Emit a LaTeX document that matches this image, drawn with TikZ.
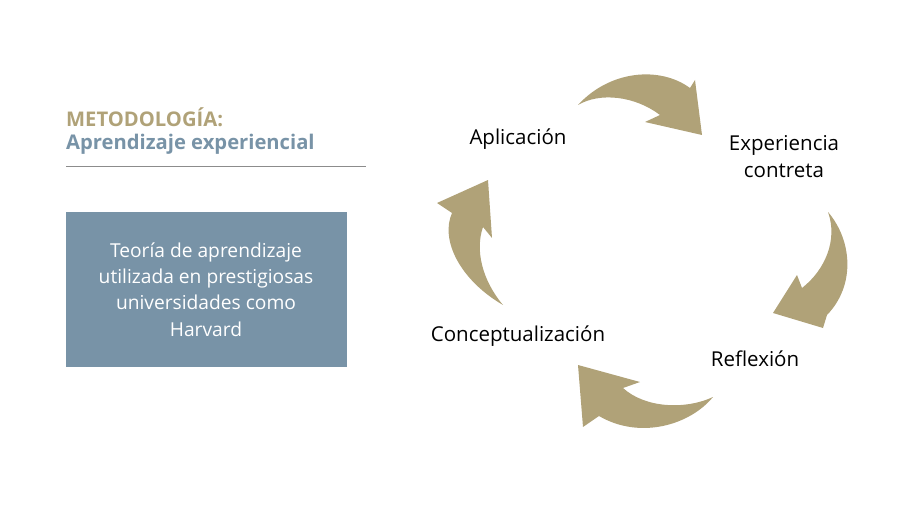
\documentclass[tikz,border=0pt]{standalone}
\usepackage{fontspec}
\setmainfont{Open Sans}
\definecolor{gold}{RGB}{176,162,120}
\definecolor{slate}{RGB}{120,147,167}
\definecolor{rule}{RGB}{140,140,140}
\begin{document}
\begin{tikzpicture}[x=1pt,y=-1pt,
  lbl/.style={font=\fontsize{20.5}{24}\selectfont, text=black, align=center, inner sep=0pt},
  arr/.style={fill=gold, draw=none}]
\useasboundingbox (0,0) rectangle (905,508);
% title
\node[anchor=west, inner sep=0pt, text=gold, font=\fontsize{20.2}{22}\selectfont\bfseries] (t1) at (66,117) {METODOLOGÍA:};
\node[anchor=west, inner sep=0pt, text=slate, font=\fontsize{20.2}{22}\selectfont\bfseries] (t2) at (66,144) {Aprendizaje experiencial};
\coordinate (r1) at (66,167);
\coordinate (r2) at (366,167);
\draw[rule, line width=1pt] (r1) -- (r2);
% box
\node[fill=slate, minimum width=281pt, minimum height=155pt, inner sep=0pt, anchor=north west] (box) at (66,212) {};
\node[text=white, align=center, font=\fontsize{19.2}{26.3}\selectfont, inner sep=0pt] (boxtxt) at (206,289.5)
  {Teoría de aprendizaje\\utilizada en prestigiosas\\universidades como\\Harvard};
% labels
\node[lbl] (apl) at (518,139) {Aplicación};
\node[lbl, font=\fontsize{20.5}{27}\selectfont] (exp) at (784,157) {Experiencia\\contreta};
\node[lbl] (ref) at (755,359) {Reflexión};
\node[lbl] (con) at (518,336) {Conceptualización};
% arrows
\fill[arr] (578,105) .. controls (610,70) and (660,66) .. (690,88)
  -- (695,80) -- (702,135) -- (645,122) -- (660,115)
  .. controls (635,96) and (600,92) .. (578,105) -- cycle;
\fill[arr] (828,212) .. controls (852,240) and (856,285) .. (827,315)
  -- (823,328) -- (773,313) -- (797,275) -- (802,288)
  .. controls (825,270) and (838,240) .. (828,212) -- cycle;
\fill[arr] (713,397) .. controls (690,425) and (640,440) .. (599,416)
  -- (583,427) -- (578,365) -- (640,382) -- (623,388)
  .. controls (645,408) and (685,410) .. (713,397) -- cycle;
\fill[arr] (503,305) .. controls (460,280) and (440,240) .. (452,213)
  -- (437,203) -- (488,180) -- (492,238) -- (483,227)
  .. controls (475,250) and (482,280) .. (503,305) -- cycle;
\end{tikzpicture}
\end{document}
